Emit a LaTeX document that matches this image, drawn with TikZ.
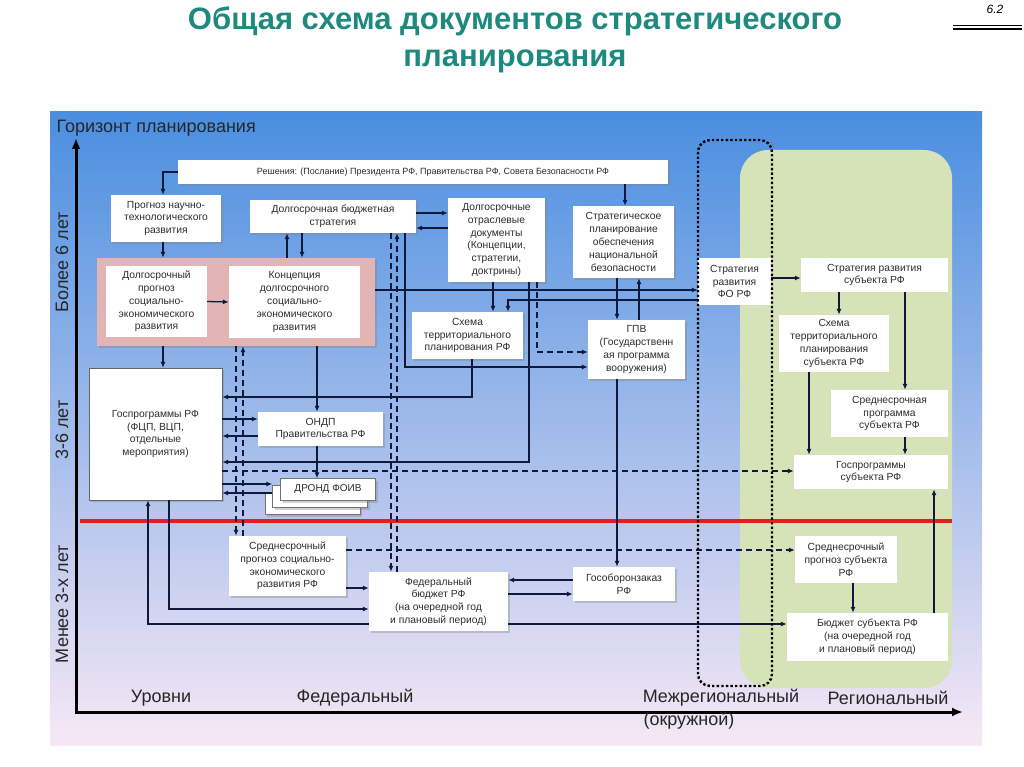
\documentclass[tikz,border=0pt]{standalone}
\usepackage{fontspec}
\setmainfont{Liberation Sans}
\usepackage{tikz}
\usetikzlibrary{positioning}
\usetikzlibrary{arrows.meta}
\usetikzlibrary{shadows}
\definecolor{navy}{RGB}{15,25,60}
\definecolor{titlecol}{RGB}{30,138,126}
\definecolor{bgtop}{RGB}{74,142,224}
\definecolor{bgmid}{RGB}{155,195,238}
\definecolor{bgbot}{RGB}{246,232,245}
\definecolor{regcol}{RGB}{214,226,184}
\definecolor{pinkcol}{RGB}{226,180,180}
\definecolor{redline}{RGB}{226,30,30}
\definecolor{txtcol}{RGB}{45,45,45}
\tikzset{
	doc/.style={
		fill=white,
		align=center,
		inner sep=1pt,
		text=txtcol,
		font=\fontsize{10.3}{12.8}\selectfont},
	shad/.style={
		drop shadow={shadow xshift=2pt, shadow yshift=-2pt, opacity=0.35}},
	link/.style={
		draw=navy,
		line width=1.3pt,
		-{Latex[length=6pt,width=5pt]}},
	dlink/.style={
		link,
		dash pattern=on 6pt off 4pt},
	axislabel/.style={
		font=\fontsize{18}{21}\selectfont,
		text=black!85}
}
\begin{document}
\begin{tikzpicture}[x=1pt,y=-1pt]
				\fill[white] (0,0) rectangle (1024,767);
				\useasboundingbox (0,0) rectangle (1024,767);
				\shade[top color=bgtop, middle color=bgmid, bottom color=bgbot] (50,112) rectangle (982,745);
				\fill[regcol, rounded corners=28] (740,150) rectangle (952,688);
				\draw[line width=3pt, {Latex[length=11pt,width=9pt]}-{Latex[length=11pt,width=9pt]}] (76,138) -- (76,712) -- (963,712);
				\draw[redline, line width=4.8pt] (80,521) -- (952,521);
				\node[font=\bfseries\fontsize{31}{37}\selectfont, text=titlecol, align=center] (title) at (515,40) {Общая схема документов стратегического\\планирования};
				\node[font=\itshape\fontsize{12}{14}\selectfont] (pg) at (995,9) {6.2};
				\draw[line width=1.3pt] (953,25.5) -- (1022,25.5);
				\draw[line width=1.3pt] (953,29) -- (1022,29);
				\node[doc, shad, minimum width=490, minimum height=24, font=\fontsize{9}{11}\selectfont] (resh) at (423,172) {\hspace*{20pt}Решения: (Послание) Президента РФ, Правительства РФ, Совета Безопасности РФ};
				\node[doc, shad, minimum width=110, minimum height=47] (pnt) at (166,218.5) {Прогноз научно-\\технологического\\развития};
				\node[doc, shad, minimum width=166, minimum height=33] (dbs) at (333,216.5) {Долгосрочная бюджетная\\стратегия};
				\node[fill=pinkcol, shad, inner sep=0pt, minimum width=278, minimum height=88] (pink) at (236,302) {};
				\node[doc, minimum width=101, minimum height=71] (dpsr) at (156.5,301.5) {Долгосрочный\\прогноз\\социально-\\экономического\\развития};
				\node[doc, minimum width=131, minimum height=72] (kdsr) at (294.5,302) {Концепция\\долгосрочного\\социально-\\экономического\\развития};
				\node[doc, shad, minimum width=97, minimum height=84] (otr) at (496.5,240) {Долгосрочные\\отраслевые\\документы\\(Концепции,\\стратегии,\\доктрины)};
				\node[doc, shad, minimum width=101, minimum height=72] (spnb) at (623.5,242) {Стратегическое\\планирование\\обеспечения\\национальной\\безопасности};
				\node[doc, shad, minimum width=111, minimum height=47] (stp) at (467.5,335.5) {Схема\\территориального\\планирования РФ};
				\node[doc, shad, minimum width=97, minimum height=59] (gvp) at (636.5,349.5) {ГПВ\\(Государственн\\ая программа\\вооружения)};
				\node[doc, minimum width=73, minimum height=47] (sfo) at (734.5,281.5) {Стратегия\\развития\\ФО РФ};
				\node[doc, minimum width=147, minimum height=34] (ssub) at (874.5,275) {Стратегия развития\\субъекта РФ};
				\node[doc, minimum width=110, minimum height=57] (stpsub) at (834,343.5) {Схема\\территориального\\планирования\\субъекта РФ};
				\node[doc, minimum width=117, minimum height=47] (sspsub) at (889.5,413.5) {Среднесрочная\\программа\\субъекта РФ};
				\node[doc, minimum width=154, minimum height=34] (gpsub) at (871,472) {Госпрограммы\\субъекта РФ};
				\node[doc, draw=black!60, shad, minimum width=133, minimum height=132] (gprf) at (155.5,434) {Госпрограммы РФ\\(ФЦП, ВЦП,\\отдельные\\мероприятия)};
				\node[doc, shad, minimum width=125, minimum height=34] (ondp) at (320.5,429) {ОНДП\\Правительства РФ};
				\node[doc, draw=black!55, shad, minimum width=95, minimum height=22] (drond3) at (312.5,503.5) {};
				\node[doc, draw=black!55, shad, minimum width=95, minimum height=22] (drond2) at (320,496.5) {};
				\node[doc, draw=black!55, shad, minimum width=95, minimum height=22, font=\fontsize{10}{12}\selectfont] (drond) at (328,489.5) {ДРОНД ФОИВ};
				\node[doc, shad, minimum width=117, minimum height=60] (sprf) at (287.5,566) {Среднесрочный\\прогноз социально-\\экономического\\развития РФ};
				\node[doc, shad, minimum width=139, minimum height=59] (fb) at (438.5,601.5) {Федеральный\\бюджет РФ\\(на очередной год\\и плановый период)};
				\node[doc, shad, minimum width=102, minimum height=34] (goz) at (624,584) {Гособоронзаказ\\РФ};
				\node[doc, minimum width=102, minimum height=47] (spsub) at (846,559.5) {Среднесрочный\\прогноз субъекта\\РФ};
				\node[doc, minimum width=161, minimum height=48] (bsub) at (867.5,637) {Бюджет субъекта РФ\\(на очередной год\\и плановый период)};
				\draw[link] (resh.west) -| (163,0 |- pnt.north);
				\draw[link] (163,0 |- pnt.south) -- (163,0 |- pink.north);
				\draw[link] (dpsr.east) -- (kdsr.west);
				\draw[link] (287,0 |- pink.north) -- (287,0 |- dbs.south);
				\draw[link] (302,0 |- dbs.south) -- (302,0 |- pink.north);
				\draw[link] (dbs.east |- 0,213) -- (otr.west |- 0,213);
				\draw[link] (otr.west |- 0,228) -- (dbs.east |- 0,228);
				\draw[link] (625,0 |- resh.south) -- (625,0 |- spnb.north);
				\draw[link] (493,0 |- otr.south) -- (493,0 |- stp.north);
				\draw[link] (617,0 |- spnb.south) -- (617,0 |- gvp.north);
				\draw[link] (639,0 |- gvp.north) -- (639,0 |- spnb.south);
				\draw[link] (pink.east |- 0,290) -- (sfo.west |- 0,290);
				\draw[link] (sfo.west |- 0,300) -| (508,0 |- stp.north);
				\draw[link] (529,0 |- otr.south) |- (gprf.east |- 0,462);
				\draw[dlink] (537,0 |- otr.south) |- (gvp.west |- 0,352);
				\draw[link] (405,0 |- dbs.south) |- (gvp.west |- 0,367);
				\draw[dlink] (236,0 |- pink.south) -- (236,0 |- sprf.north);
				\draw[dlink] (243,0 |- sprf.north) -- (243,0 |- pink.south);
				\draw[dlink] (391,0 |- dbs.south) -- (391,0 |- fb.north);
				\draw[dlink] (397,0 |- fb.north) -- (397,0 |- dbs.south);
				\draw[link] (472,0 |- stp.south) |- (gprf.east |- 0,397);
				\draw[link] (gprf.east |- 0,419) -- (ondp.west |- 0,419);
				\draw[link] (ondp.west |- 0,436) -- (gprf.east |- 0,436);
				\draw[link] (gprf.east |- 0,484) -- (drond2.west |- 0,484);
				\draw[link] (drond2.west |- 0,493) -- (gprf.east |- 0,493);
				\draw[dlink] (gprf.east |- 0,471) -- (gpsub.west |- 0,471);
				\draw[link] (317,0 |- pink.south) -- (317,0 |- ondp.north);
				\draw[link] (317,0 |- ondp.south) -- (317,0 |- drond.north);
				\draw[link] (163,0 |- pink.south) -- (163,0 |- gprf.north);
				\draw[link] (sprf.east |- 0,588) -- (fb.west |- 0,588);
				\draw[link] (169,0 |- gprf.south) |- (fb.west |- 0,609);
				\draw[link] (fb.west |- 0,624) -| (148,0 |- gprf.south);
				\draw[link] (fb.east |- 0,594) -- (goz.west |- 0,594);
				\draw[link] (goz.west |- 0,580) -- (fb.east |- 0,580);
				\draw[link] (fb.east |- 0,624) -- (bsub.west |- 0,624);
				\draw[link] (617,0 |- gvp.south) -- (617,0 |- goz.north);
				\draw[dlink] (sprf.east |- 0,550) -- (spsub.west |- 0,550);
				\draw[link] (sfo.east |- 0,278) -- (ssub.west |- 0,278);
				\draw[link] (839,0 |- ssub.south) -- (839,0 |- stpsub.north);
				\draw[link] (905,0 |- ssub.south) -- (905,0 |- sspsub.north);
				\draw[link] (809,0 |- stpsub.south) -- (809,0 |- gpsub.north);
				\draw[link] (905,0 |- sspsub.south) -- (905,0 |- gpsub.north);
				\draw[link] (934,0 |- bsub.north) -- (934,0 |- gpsub.south);
				\draw[link] (853,0 |- spsub.south) -- (853,0 |- bsub.north);
				\draw[line width=2.4pt, dash pattern=on 2.4pt off 2.2pt, rounded corners=12] (698,140) rectangle (772,686);
				\node[axislabel, anchor=west] (hor) at (53,128) {Горизонт планирования};
				\node[axislabel, rotate=90] (more6) at (62,262) {Более 6 лет};
				\node[axislabel, rotate=90] (mid36) at (62,430) {3-6 лет};
				\node[axislabel, rotate=90] (less3) at (62,604) {Менее 3-х лет};
				\node[axislabel] (lev) at (161,698) {Уровни};
				\node[axislabel] (fed) at (355,698) {Федеральный};
				\node[axislabel] (mezh) at (721,698) {Межрегиональный};
				\node[axislabel] (okr) at (689,721) {(окружной)};
				\node[axislabel] (reg) at (888,698) {Региональный};
			\end{tikzpicture}
\end{document}
